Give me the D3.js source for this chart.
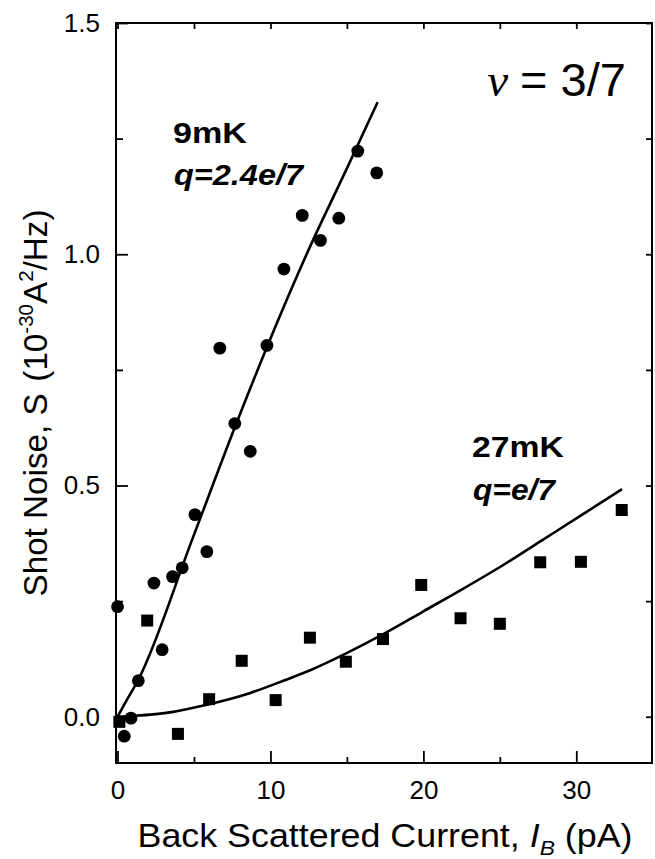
<!DOCTYPE html>
<html>
<head>
<meta charset="utf-8">
<script src="https://cdnjs.cloudflare.com/ajax/libs/d3/7.8.5/d3.min.js"></script>
<style>
  html, body { margin: 0; padding: 0; background: #fff; }
  svg text { font-family: "Liberation Sans", Arial, Helvetica, sans-serif; fill: #000; }
</style>
</head>
<body>
<div id="chart"></div>
<script>
// 9mK data (circles)
var circX = [0.0, 0.44, 0.88, 1.36, 2.38, 2.92, 3.60, 4.23, 5.06, 5.84, 6.69, 7.67, 8.68, 9.77, 10.88, 12.08, 13.27, 14.47, 15.71, 16.95];
var circY = [0.238, -0.042, -0.003, 0.078, 0.289, 0.145, 0.303, 0.322, 0.437, 0.357, 0.797, 0.634, 0.574, 0.803, 0.968, 1.084, 1.030, 1.078, 1.223, 1.176];

// 27mK data (squares)
var sqX = [0.12, 1.94, 3.95, 5.99, 8.12, 10.34, 12.58, 14.93, 17.36, 19.86, 22.43, 25.0, 27.64, 30.3, 32.97];
var sqY = [-0.011, 0.208, -0.037, 0.038, 0.121, 0.036, 0.171, 0.119, 0.168, 0.285, 0.213, 0.201, 0.334, 0.335, 0.447];

// fitted curves
var fit9X = [0, 0.5, 1.36, 4.88, 7.66, 9.84, 12.5, 15.06, 17.01];
var fit9Y = [0, 0.03, 0.08, 0.383, 0.625, 0.805, 1.01, 1.19, 1.329];
var fit27X = [0, 1.14, 3.54, 5.71, 8.64, 10.93, 12.56, 14.95, 17.34, 19.95, 22.56, 25.17, 27.78, 30.39, 32.99];
var fit27Y = [0, 0.002, 0.010, 0.025, 0.051, 0.079, 0.100, 0.137, 0.178, 0.227, 0.276, 0.327, 0.382, 0.437, 0.492];

var xMajor = [0, 10, 20, 30];
var xMinor = [5, 15, 25];
var yMajor = [0.0, 0.5, 1.0, 1.5];
var yMinor = [0.25, 0.75, 1.25];

var W = 655, H = 859;
var margin = { top: 23, right: 3, bottom: 96, left: 116 };

var svg = d3.select("#chart").append("svg")
    .attr("width", W)
    .attr("height", H);

var x = d3.scaleLinear().domain([-0.1, 34.95]).range([margin.left, W - margin.right]);
var y = d3.scaleLinear().domain([-0.1, 1.5]).range([H - margin.bottom, margin.top]);

var tickFont = "26px";

// bottom axis, ticks pointing in
svg.append("g").attr("transform", "translate(0," + (H - margin.bottom) + ")")
    .call(d3.axisBottom(x).tickValues(xMajor).tickFormat(d3.format("d")).tickSize(-12).tickPadding(18));
svg.append("g").attr("transform", "translate(0," + (H - margin.bottom) + ")")
    .call(d3.axisBottom(x).tickValues(xMinor).tickFormat("").tickSize(-6));

// top axis
svg.append("g").attr("transform", "translate(0," + margin.top + ")")
    .call(d3.axisTop(x).tickValues(xMajor.concat(xMinor)).tickFormat("").tickSize(-6));

// left axis
svg.append("g").attr("transform", "translate(" + margin.left + ",0)")
    .call(d3.axisLeft(y).tickValues(yMajor).tickFormat(d3.format(".1f")).tickSize(-12).tickPadding(16));
svg.append("g").attr("transform", "translate(" + margin.left + ",0)")
    .call(d3.axisLeft(y).tickValues(yMinor).tickFormat("").tickSize(-7));

// right axis
svg.append("g").attr("transform", "translate(" + (W - margin.right) + ",0)")
    .call(d3.axisRight(y).tickValues(yMajor.concat(yMinor)).tickFormat("").tickSize(-6));

svg.selectAll(".domain").remove();
svg.selectAll(".tick line").attr("stroke", "#000").attr("stroke-width", 1.8);
svg.selectAll(".tick text").style("font-size", tickFont).attr("fill", "#000");

// frame
svg.append("rect")
    .attr("x", margin.left).attr("y", margin.top)
    .attr("width", W - margin.left - margin.right)
    .attr("height", H - margin.top - margin.bottom)
    .attr("fill", "none").attr("stroke", "#000").attr("stroke-width", 2);

// fit curves
var line = d3.line()
    .x(function(d) { return x(d[0]); })
    .y(function(d) { return y(d[1]); })
    .curve(d3.curveMonotoneX);

svg.append("path")
    .datum(d3.zip(fit9X, fit9Y))
    .attr("d", line)
    .attr("fill", "none").attr("stroke", "#000").attr("stroke-width", 2.6);

svg.append("path")
    .datum(d3.zip(fit27X, fit27Y))
    .attr("d", line)
    .attr("fill", "none").attr("stroke", "#000").attr("stroke-width", 2.6);

// markers
svg.selectAll("circle.pt")
    .data(d3.zip(circX, circY))
    .enter().append("circle")
    .attr("class", "pt")
    .attr("cx", function(d) { return x(d[0]); })
    .attr("cy", function(d) { return y(d[1]); })
    .attr("r", 6.4)
    .attr("fill", "#000");

var s = 12;
svg.selectAll("rect.pt")
    .data(d3.zip(sqX, sqY))
    .enter().append("rect")
    .attr("class", "pt")
    .attr("x", function(d) { return x(d[0]) - s / 2; })
    .attr("y", function(d) { return y(d[1]) - s / 2; })
    .attr("width", s).attr("height", s)
    .attr("fill", "#000");

// annotations
svg.append("text").attr("x", 173).attr("y", 143)
    .style("font-size", "30px").style("font-weight", "bold")
    .attr("textLength", 74).attr("lengthAdjust", "spacingAndGlyphs")
    .text("9mK");
svg.append("text").attr("x", 174).attr("y", 185)
    .style("font-size", "30px").style("font-weight", "bold").style("font-style", "italic")
    .attr("textLength", 129).attr("lengthAdjust", "spacingAndGlyphs")
    .text("q=2.4e/7");
svg.append("text").attr("x", 472).attr("y", 457)
    .style("font-size", "30px").style("font-weight", "bold")
    .attr("textLength", 92).attr("lengthAdjust", "spacingAndGlyphs")
    .text("27mK");
svg.append("text").attr("x", 473).attr("y", 500)
    .style("font-size", "30px").style("font-weight", "bold").style("font-style", "italic")
    .attr("textLength", 82).attr("lengthAdjust", "spacingAndGlyphs")
    .text("q=e/7");

svg.append("text").attr("x", 508).attr("y", 96)
    .attr("text-anchor", "end")
    .style("font-family", "'Liberation Serif', 'Times New Roman', serif")
    .style("font-style", "italic")
    .style("font-size", "47px")
    .text("ν");
svg.append("text").attr("x", 520).attr("y", 96)
    .style("font-size", "47px")
    .style("white-space", "pre")
    .text("= 3/7");

// axis titles
var xl = svg.append("text")
    .attr("x", 385).attr("y", 847)
    .attr("text-anchor", "middle")
    .attr("textLength", 495).attr("lengthAdjust", "spacingAndGlyphs")
    .style("font-size", "33px");
xl.append("tspan").text("Back Scattered Current, ");
xl.append("tspan").style("font-style", "italic").text("I");
xl.append("tspan").attr("dy", 8).style("font-size", "21px").style("font-style", "italic").text("B");
xl.append("tspan").attr("dy", -8).text(" (pA)");

var yl = svg.append("text")
    .attr("transform", "translate(47,403) rotate(-90)")
    .attr("text-anchor", "middle")
    .attr("textLength", 387).attr("lengthAdjust", "spacingAndGlyphs")
    .style("font-size", "34px");
yl.append("tspan").text("Shot Noise, S");
yl.append("tspan").attr("dx", 12).text("(10");
yl.append("tspan").attr("dy", -14).style("font-size", "21px").text("-30");
yl.append("tspan").attr("dy", 14).text("A");
yl.append("tspan").attr("dy", -14).style("font-size", "21px").text("2");
yl.append("tspan").attr("dy", 14).text("/Hz)");
</script>
</body>
</html>
